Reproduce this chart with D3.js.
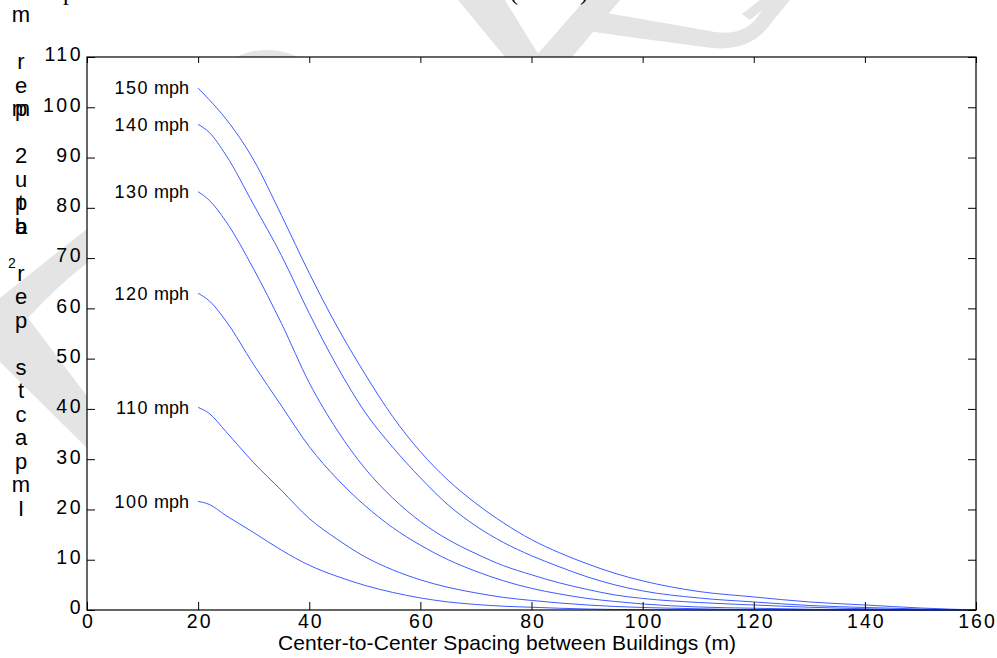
<!DOCTYPE html>
<html>
<head>
<meta charset="utf-8">
<script src="https://cdn.jsdelivr.net/npm/d3@7"></script>
<style>
  html, body { margin: 0; padding: 0; background: #fff; }
  svg { display: block; }
  text { font-family: "Liberation Sans", Arial, Helvetica, sans-serif; fill: #000; }
</style>
</head>
<body>
<svg id="chart" width="997" height="658"></svg>
<script>
// ---------------- data ----------------
const spacing = [20, 22, 25, 30, 35, 40, 45, 50, 55, 60, 65, 70, 75, 80, 85, 90, 95, 100, 110, 120, 130, 140, 150, 160];
const speedLabels = ["150 mph", "140 mph", "130 mph", "120 mph", "110 mph", "100 mph"];
const impacts150 = [103.8, 101.5, 97.7, 89.5, 78.5, 67.0, 56.4, 47.0, 38.5, 31.5, 25.8, 21.2, 17.3, 14.0, 11.4, 9.2, 7.3, 5.8, 3.7, 2.6, 1.6, 1.0, 0.4, 0];
const impacts140 = [96.6, 95.0, 90.5, 80.6, 70.5, 59.0, 48.5, 39.4, 32.4, 26.3, 20.9, 16.7, 13.4, 10.8, 8.6, 6.6, 5.0, 3.8, 2.4, 1.6, 0.9, 0.5, 0.2, 0];
const impacts130 = [83.2, 81.5, 77.3, 67.8, 57.0, 45.2, 35.8, 28.2, 22.3, 17.6, 14.0, 11.2, 8.8, 7.0, 5.4, 4.1, 3.0, 2.3, 1.5, 1.0, 0.55, 0.25, 0.05, 0];
const impacts120 = [63.0, 61.5, 57.5, 48.8, 40.6, 32.5, 26.1, 20.8, 16.4, 12.9, 10.0, 7.7, 5.8, 4.3, 3.2, 2.3, 1.7, 1.2, 0.6, 0.35, 0.15, 0, 0, 0];
const impacts110 = [40.3, 39.1, 35.5, 29.3, 23.8, 18.2, 14.1, 10.6, 8.0, 6.0, 4.5, 3.4, 2.5, 1.9, 1.4, 1.0, 0.7, 0.5, 0.25, 0.05, 0, 0, 0, 0];
const impacts100 = [21.6, 21.0, 18.8, 15.4, 11.9, 8.9, 6.7, 4.9, 3.5, 2.4, 1.6, 1.1, 0.75, 0.55, 0.35, 0.2, 0.1, 0.05, 0, 0, 0, 0, 0, 0];
const xTicks = [0, 20, 40, 60, 80, 100, 120, 140, 160];
const yTicks = [0, 10, 20, 30, 40, 50, 60, 70, 80, 90, 100, 110];
const xTitle = "Center-to-Center Spacing between Buildings (m)";
// garbled vertical y-axis label, letters as they appear (top to bottom)
const yLabelLetters = ["m", "r", "e", "p", "m", "2", "u", "p", "t", "a", "b", "r", "e", "p", "s", "t", "c", "a", "p", "m", "I"];
const yLabelRows    = [0, 2, 3, 4, 4, 6, 7, 8, 8, 9, 9, 11, 12, 13, 15, 16, 17, 18, 19, 20, 21];

const series = [impacts150, impacts140, impacts130, impacts120, impacts110, impacts100];

// ---------------- layout ----------------
const svg = d3.select("#chart");
const L = 87, R = 976, T = 57, B = 610;

const x = d3.scaleLinear().domain([0, 160]).range([L, R]);
const y = d3.scaleLinear().domain([0, 110]).range([B, T]);

// ---------------- watermark (background decoration) ----------------
const wm = svg.append("g").attr("fill", "#e4e4e4").attr("stroke", "none");
wm.append("path").attr("d", "M0,298 Q45,262 87,229 L87,263 Q55,288 28,318 L87,396 L87,448 L0,362 Z");
wm.append("ellipse").attr("cx", 267).attr("cy", 92).attr("rx", 56).attr("ry", 42);
wm.append("path").attr("d", "M458,0 L505,0 L540,57 L505,57 Z");
wm.append("path").attr("d", "M585,0 L620,0 L572,57 L535,57 Z");
wm.append("path").attr("d", "M588,10 Q660,22 715,32 Q745,36 758,16 L770,0 L790,0 L772,22 Q752,52 712,48 Q650,40 580,30 Z");
wm.append("path").attr("d", "M742,14 L760,0 L775,0 L750,20 Z");

// white axes background
svg.append("rect").attr("x", L).attr("y", T).attr("width", R - L).attr("height", B - T).attr("fill", "#fff");

// ---------------- curves ----------------
const line = d3.line().x((d, i) => x(spacing[i])).y(d => y(d)).curve(d3.curveMonotoneX);
svg.append("g").selectAll("path").data(series).join("path")
  .attr("d", d => line(d))
  .attr("fill", "none")
  .attr("stroke", "#3d5cff")
  .attr("stroke-width", 1);

// curve labels (digits drawn a bit wider, like the reference font)
const lbl = svg.append("g").selectAll("text").data(series).join("text")
  .attr("x", x(spacing[0]) - 9)
  .attr("y", d => y(d[0]))
  .attr("dy", "0.35em")
  .attr("text-anchor", "end")
  .style("font-size", "18px");
lbl.append("tspan").attr("letter-spacing", "1.5px").text((d, i) => speedLabels[i].split(" ")[0]);
lbl.append("tspan").text((d, i) => " " + speedLabels[i].split(" ")[1]);

// ---------------- axes ----------------
const fmt = d3.format("d");
const gx = svg.append("g").attr("transform", `translate(0,${B})`)
  .call(d3.axisBottom(x).tickValues(xTicks).tickFormat(fmt).tickSizeInner(-8).tickSizeOuter(0).tickPadding(4));
const gy = svg.append("g").attr("transform", `translate(${L},0)`)
  .call(d3.axisLeft(y).tickValues(yTicks).tickFormat(fmt).tickSizeInner(-8).tickSizeOuter(0).tickPadding(4));
const gt = svg.append("g").attr("transform", `translate(0,${T})`)
  .call(d3.axisTop(x).tickValues(xTicks).tickFormat("").tickSizeInner(-6).tickSizeOuter(0));
const gr = svg.append("g").attr("transform", `translate(${R},0)`)
  .call(d3.axisRight(y).tickValues(yTicks).tickFormat("").tickSizeInner(-8).tickSizeOuter(0));

[gx, gy, gt, gr].forEach(g => {
  g.select(".domain").remove();
  g.selectAll(".tick line").attr("stroke", "#000").attr("stroke-width", 1);
  g.selectAll("text").style("font-family", "'Liberation Sans', Arial, sans-serif");
});
gx.selectAll(".tick text").style("font-size", "19.5px").attr("letter-spacing", "2px").attr("fill", "#000")
  .attr("dx", "1px");
gy.selectAll(".tick text").style("font-size", "19.5px").attr("letter-spacing", "2.5px").attr("fill", "#000")
  .attr("dy", "0.2em");

// frame
svg.append("rect").attr("x", L).attr("y", T).attr("width", R - L).attr("height", B - T)
  .attr("fill", "none").attr("stroke", "#000").attr("stroke-width", 1.2);

// x title
svg.append("text").attr("x", 507).attr("y", 650).attr("text-anchor", "middle")
  .style("font-size", "21px").attr("textLength", 458).text(xTitle);

// y label (vertical stacked letters)
svg.append("g").selectAll("text").data(yLabelLetters).join("text")
  .attr("x", 21)
  .attr("y", (d, i) => 22 + yLabelRows[i] * 23.5)
  .attr("text-anchor", "middle")
  .style("font-size", "22px")
  .text(d => d);
svg.append("text").attr("x", 12).attr("y", 268).attr("text-anchor", "middle")
  .style("font-size", "14px").text("2");

// cut-off title remnants at the top edge
const serif = "'Liberation Serif', 'Times New Roman', serif";
svg.append("text").attr("x", 63).attr("y", 0).style("font-family", serif).style("font-size", "24px").text("p");
svg.append("text").attr("x", 510).attr("y", 0).style("font-family", serif).style("font-size", "24px").text("(");
svg.append("text").attr("x", 580).attr("y", 0).style("font-family", serif).style("font-size", "24px").text(")");
</script>
</body>
</html>
